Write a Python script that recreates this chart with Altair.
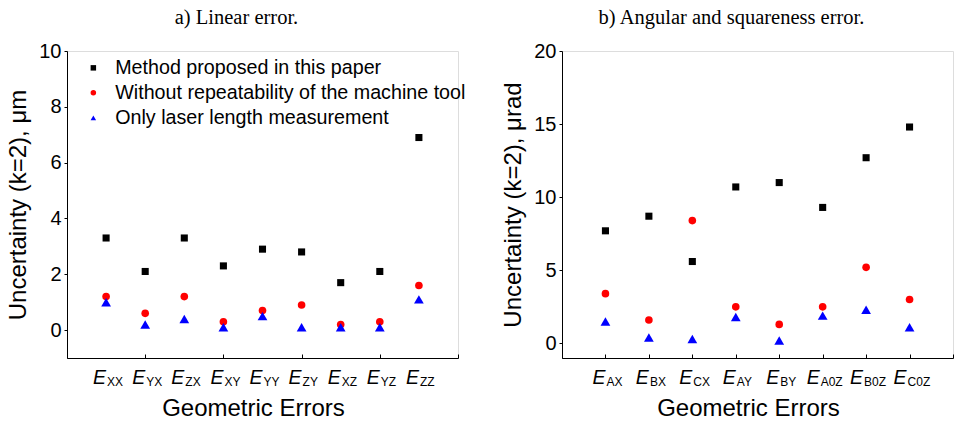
import altair as alt
import pandas as pd

SERIES = ["Method proposed in this paper",
          "Without repeatability of the machine tool",
          "Only laser length measurement"]

# Panel a) Linear error
lin_cats = ["XX", "YX", "ZX", "XY", "YY", "ZY", "XZ", "YZ", "ZZ"]
lin_method = [3.3, 2.1, 3.3, 2.3, 2.9, 2.8, 1.7, 2.1, 6.9]
lin_norep = [1.2, 0.6, 1.2, 0.3, 0.7, 0.9, 0.2, 0.3, 1.6]
lin_laser = [1.0, 0.2, 0.4, 0.1, 0.5, 0.1, 0.1, 0.1, 1.1]
lin_yticks = [0, 2, 4, 6, 8, 10]

# Panel b) Angular and squareness error
ang_cats = ["AX", "BX", "CX", "AY", "BY", "A0Z", "B0Z", "C0Z"]
ang_method = [7.7, 8.7, 5.6, 10.7, 11.0, 9.3, 12.7, 14.8]
ang_norep = [3.4, 1.6, 8.4, 2.5, 1.3, 2.5, 5.2, 3.0]
ang_laser = [1.5, 0.4, 0.3, 1.8, 0.2, 1.9, 2.3, 1.1]
ang_yticks = [0, 5, 10, 15, 20]

W, H = 391, 307
SANS = "Liberation Sans"
SERIF = "Liberation Serif"
MARK_SIZES = [50, 58, 95]


def panel(cats, method, norep, laser, ymax, yticks, ytitle, title):
    n = len(cats)
    rows = []
    for k, (name, vals) in enumerate(zip(SERIES, [method, norep, laser])):
        for i, (c, v) in enumerate(zip(cats, vals)):
            rows.append({"idx": i + 1, "cat": c, "series": name, "value": v,
                         "o": k, "sz": MARK_SIZES[k]})
    df = pd.DataFrame(rows)
    lab = pd.DataFrame({"idx": list(range(1, n + 1)), "sub": cats,
                        "E": ["E"] * n, "long": [len(c) > 2 for c in cats]})

    xscale = alt.Scale(domain=[0, n + 1], nice=False, zero=False)
    xaxis = alt.Axis(orient="top", offset=-H, values=list(range(0, n + 2)),
                     labels=False, tickSize=4, grid=False,
                     domainColor="black", tickColor="black",
                     title="Geometric Errors", titleFont=SANS, titleFontSize=24,
                     titleFontWeight="normal", titleColor="black",
                     titleX=186, titleY=57, titleBaseline="alphabetic")
    yaxis = alt.Axis(values=yticks, tickSize=3, labelPadding=3, grid=False,
                     labelFont=SANS, labelFontSize=20, labelColor="black",
                     domainColor="black", tickColor="black",
                     title=ytitle, titleFont=SANS, titleFontSize=24,
                     titleFontWeight="normal", titleColor="black",
                     titleX=-42, titleY=H / 2, titleBaseline="alphabetic")

    legend = alt.Legend(title=None, orient="none", legendX=16.5, legendY=7,
                        labelFont=SANS, labelFontSize=19.7, labelColor="black",
                        symbolSize=30, symbolStrokeWidth=0, rowPadding=4,
                        labelOffset=12, padding=0, labelLimit=600)

    pts = alt.Chart(df).mark_point(filled=True, opacity=1).encode(
        x=alt.X("idx:Q", scale=xscale, axis=xaxis),
        y=alt.Y("value:Q", scale=alt.Scale(domain=[-1, ymax], nice=False, zero=False), axis=yaxis),
        color=alt.Color("series:N", scale=alt.Scale(domain=SERIES, range=["black", "red", "blue"]),
                        legend=legend, sort=SERIES),
        shape=alt.Shape("series:N", scale=alt.Scale(domain=SERIES, range=["square", "circle", "triangle-up"]),
                        legend=legend, sort=SERIES),
        size=alt.Size("sz:Q", scale=None),
        order=alt.Order("o:Q"),
    )

    base = alt.Chart(lab)
    e_short = base.transform_filter("!datum.long").mark_text(
        font=SANS, fontSize=19.5, fontStyle="italic", align="right", baseline="alphabetic",
        dx=0, color="black").encode(x=alt.X("idx:Q", scale=xscale), y=alt.value(H + 26), text="E:N")
    s_short = base.transform_filter("!datum.long").mark_text(
        font=SANS, fontSize=12, align="left", baseline="alphabetic",
        dx=1, color="black").encode(x=alt.X("idx:Q", scale=xscale), y=alt.value(H + 28), text="sub:N")
    e_long = base.transform_filter("datum.long").mark_text(
        font=SANS, fontSize=19.5, fontStyle="italic", align="right", baseline="alphabetic",
        dx=-3, color="black").encode(x=alt.X("idx:Q", scale=xscale), y=alt.value(H + 26), text="E:N")
    s_long = base.transform_filter("datum.long").mark_text(
        font=SANS, fontSize=12, align="left", baseline="alphabetic",
        dx=-2, color="black").encode(x=alt.X("idx:Q", scale=xscale), y=alt.value(H + 28), text="sub:N")

    layers = [pts, e_short, s_short]
    if any(len(c) > 2 for c in cats):
        layers += [e_long, s_long]
    return alt.layer(*layers).properties(
        width=W, height=H,
        title=alt.TitleParams(title, font=SERIF, fontSize=20.5, fontWeight="normal",
                              color="black", anchor="middle", dx=-26, offset=-3,
                              baseline="alphabetic"))


left = panel(lin_cats, lin_method, lin_norep, lin_laser, 10, lin_yticks,
             "Uncertainty (k=2), μm", "a) Linear error.")
right = panel(ang_cats, ang_method, ang_norep, ang_laser, 20, ang_yticks,
              "Uncertainty (k=2), μrad", "b) Angular and squareness error.")

chart = alt.hconcat(left, right, spacing=104, bounds="flush").properties(
    padding={"left": 5, "top": 7, "right": 2, "bottom": 2}
).configure_view(strokeWidth=0).configure(background="white")

chart.save("out.html", embed_options={"renderer": "svg", "actions": False})
